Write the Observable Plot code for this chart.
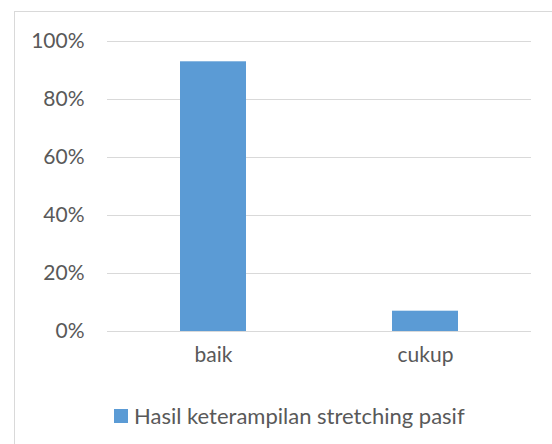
<!DOCTYPE html>
<html>
<head>
<meta charset="utf-8">
<script src="https://cdn.jsdelivr.net/npm/d3@7"></script>
<script src="https://cdn.jsdelivr.net/npm/@observablehq/plot@0.6"></script>
<style>
  html, body { margin: 0; padding: 0; background: #fff; overflow: hidden; }
  #wrap { position: relative; width: 552px; height: 444px; font-family: Lato, "Open Sans", sans-serif; color: #595959; }
  #frame { position: absolute; left: 14px; top: 11px; width: 600px; height: 500px; border-left: 1.5px solid #d9d9d9; border-top: 1.5px solid #d9d9d9; }
  #chart { position: absolute; left: 0; top: 0; }
  #legend { position: absolute; left: 114px; top: 402px; font-size: 22px; display: flex; align-items: center; white-space: nowrap; }
  #legend .sw { width: 14px; height: 14px; background: #5b9bd5; margin-right: 6px; }
</style>
</head>
<body>
<div id="wrap">
  <div id="frame"></div>
  <div id="chart"></div>
  <div id="legend"></div>
</div>
<script>
const categories = ["baik", "cukup"];
const values = [0.93, 0.07];
const yTicks = [0, 0.2, 0.4, 0.6, 0.8, 1.0];
const seriesName = "Hasil keterampilan stretching pasif";

const data = categories.map((c, i) => ({category: c, value: values[i]}));

const chart = Plot.plot({
  width: 552,
  height: 370,
  marginTop: 41,
  marginBottom: 39,
  marginLeft: 107,
  marginRight: 21,
  style: {fontFamily: "Lato, 'Open Sans', sans-serif", fontSize: "21px", color: "#595959", background: "transparent"},
  x: {domain: categories, paddingInner: 0.69, paddingOuter: 0.345, label: null},
  y: {domain: [0, 1], label: null},
  marks: [
    Plot.gridY(yTicks, {stroke: "#d9d9d9", strokeOpacity: 1, strokeWidth: 1.2}),
    Plot.barY(data, {x: "category", y: "value", fill: "#5b9bd5"}),
    Plot.axisY(yTicks, {tickSize: 0, tickPadding: 23, tickFormat: d => Math.round(d * 100) + "%", fill: "#595959", fontSize: 21}),
    Plot.axisX({tickSize: 0, tickPadding: 16, fill: "#595959", fontSize: 21})
  ]
});
document.getElementById("chart").appendChild(chart);

const lg = document.getElementById("legend");
const sw = document.createElement("span");
sw.className = "sw";
lg.appendChild(sw);
const t = document.createElement("span");
t.textContent = seriesName;
lg.appendChild(t);
</script>
</body>
</html>
